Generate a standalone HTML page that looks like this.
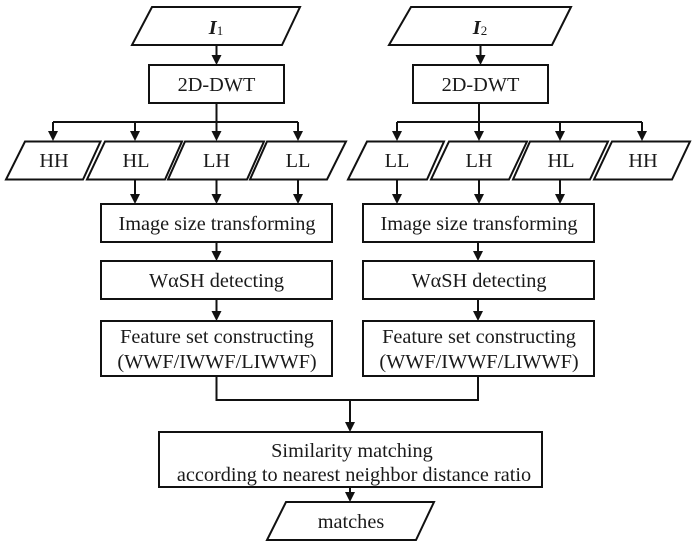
<!DOCTYPE html>
<html><head><meta charset="utf-8"><style>
html,body{margin:0;padding:0;background:#fff;width:697px;height:547px;overflow:hidden}
svg{display:block;filter:blur(0.3px)}
text{font-family:"Liberation Serif",serif;font-size:20.3px;fill:#1a1a1a;text-anchor:middle}
.s{fill:none;stroke:#111;stroke-width:2}
.a{fill:#111;stroke:none}
</style></head><body>
<svg width="697" height="547" viewBox="0 0 697 547" xmlns="http://www.w3.org/2000/svg">
<defs><path id="h" d="M-5,-10 L5,-10 L0,0 Z"/></defs>
<g class="s">
<polygon points="152,7 300,7 282,45 132,45"/>
<rect x="149" y="65" width="135" height="38"/>
<polygon points="25,141.5 100.5,141.5 83,179.5 6,179.5"/>
<polygon points="105,141.5 182,141.5 165,179.5 87,179.5"/>
<polygon points="185,141.5 264,141.5 247,179.5 168,179.5"/>
<polygon points="267,141.5 346,141.5 327,179.5 250,179.5"/>
<rect x="101" y="204" width="231" height="38"/>
<rect x="101" y="261" width="231" height="38"/>
<rect x="101" y="321" width="231" height="55"/>
<polygon points="411,7 571,7 552,45 389,45"/>
<rect x="413" y="65" width="135" height="38"/>
<polygon points="367,141.5 444,141.5 427,179.5 348,179.5"/>
<polygon points="449,141.5 527,141.5 509,179.5 431,179.5"/>
<polygon points="530,141.5 608,141.5 590,179.5 513,179.5"/>
<polygon points="612,141.5 690,141.5 672,179.5 594,179.5"/>
<rect x="363" y="204" width="231" height="38"/>
<rect x="363" y="261" width="231" height="38"/>
<rect x="363" y="321" width="231" height="55"/>
<rect x="159" y="432" width="383" height="55"/>
<polygon points="286,502 434,502 416,540 267,540"/>
<path d="M216.500,45V58M216.500,103V134M53,122H298M53,122V134M135,122V134M298,122V134M135,180V196M216.500,180V196M298,180V196M216.500,242V253M216.500,299V313"/>
<path d="M480.500,45V58M479,103V134M397,122H642M397,122V134M560,122V134M642,122V134M397,180V196M479,180V196M560,180V196M478,242V253M478,299V313"/>
<path d="M216.500,376V400H478V376M350,400V423M350,487V494"/>
</g>
<g class="a">
<use href="#h" x="216.500" y="65"/><use href="#h" x="53" y="141"/><use href="#h" x="135" y="141"/><use href="#h" x="216.500" y="141"/><use href="#h" x="298" y="141"/>
<use href="#h" x="135" y="204"/><use href="#h" x="216.500" y="204"/><use href="#h" x="298" y="204"/><use href="#h" x="216.500" y="261"/><use href="#h" x="216.500" y="321"/>
<use href="#h" x="480.500" y="65"/><use href="#h" x="397" y="141"/><use href="#h" x="479" y="141"/><use href="#h" x="560" y="141"/><use href="#h" x="642" y="141"/>
<use href="#h" x="397" y="204"/><use href="#h" x="479" y="204"/><use href="#h" x="560" y="204"/><use href="#h" x="478" y="261"/><use href="#h" x="478" y="321"/>
<use href="#h" x="350" y="432"/><use href="#h" x="350" y="502"/>
</g>
<text x="216" y="34"><tspan font-weight="bold" font-style="italic">I</tspan><tspan font-size="13" dy="1">1</tspan></text>
<text x="216.500" y="91">2D-DWT</text>
<text x="54" y="167">HH</text>
<text x="136" y="167">HL</text>
<text x="216.500" y="167">LH</text>
<text x="298" y="167">LL</text>
<text x="217" y="230">Image size transforming</text>
<text x="216.500" y="287">WαSH detecting</text>
<text x="217" y="343">Feature set constructing</text>
<text x="217" y="368">(WWF/IWWF/LIWWF)</text>
<text x="480" y="34"><tspan font-weight="bold" font-style="italic">I</tspan><tspan font-size="13" dy="1">2</tspan></text>
<text x="480.500" y="91">2D-DWT</text>
<text x="397" y="167">LL</text>
<text x="479" y="167">LH</text>
<text x="561" y="167">HL</text>
<text x="643" y="167">HH</text>
<text x="479" y="230">Image size transforming</text>
<text x="479" y="287">WαSH detecting</text>
<text x="479" y="343">Feature set constructing</text>
<text x="479" y="368">(WWF/IWWF/LIWWF)</text>
<text x="352" y="457">Similarity matching</text>
<text x="354" y="481">according to nearest neighbor distance ratio</text>
<text x="351" y="528">matches</text>
</svg>
</body></html>
